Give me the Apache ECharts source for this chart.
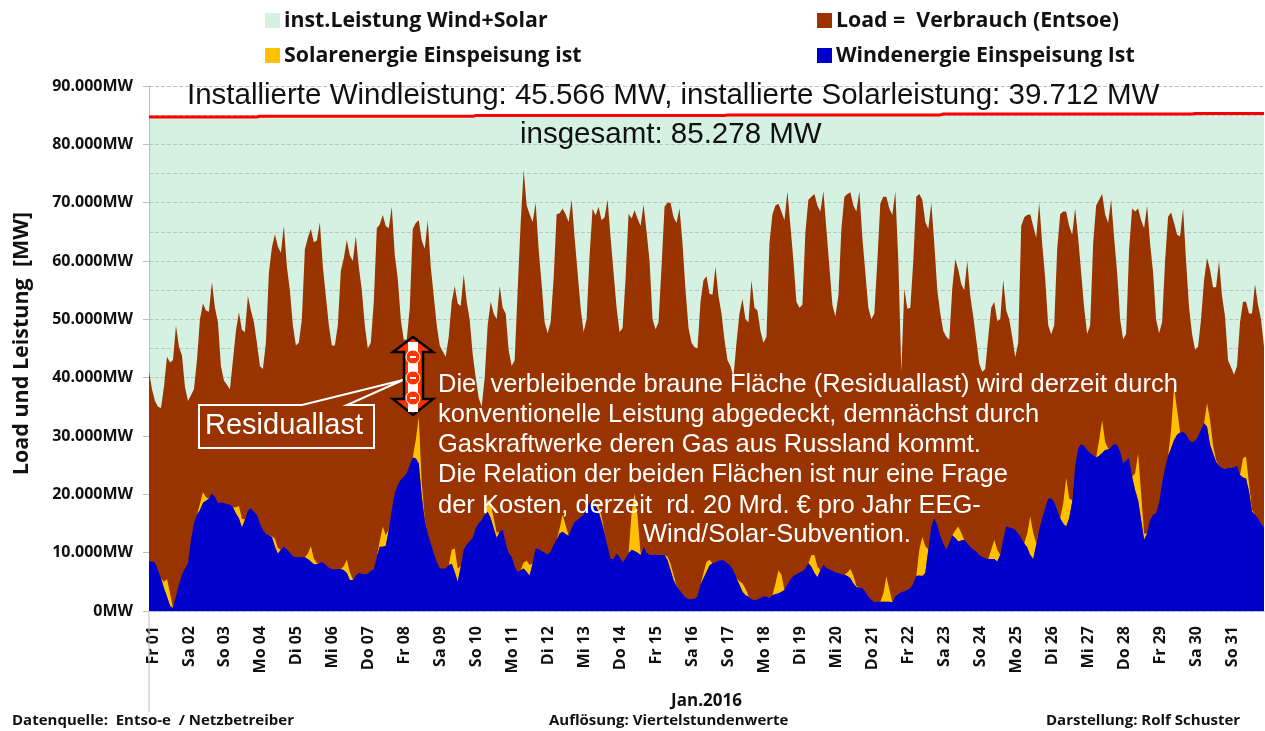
<!DOCTYPE html>
<html><head><meta charset="utf-8">
<script src="https://cdn.jsdelivr.net/npm/echarts@6/dist/echarts.min.js"></script>
<style>html,body{margin:0;padding:0;background:#fff}#c{width:1265px;height:731px}</style>
</head><body><div id="c"></div>
<script>
const dayLabels=["Fr 01","Sa 02","So 03","Mo 04","Di 05","Mi 06","Do 07","Fr 08","Sa 09","So 10","Mo 11","Di 12","Mi 13","Do 14","Fr 15","Sa 16","So 17","Mo 18","Di 19","Mi 20","Do 21","Fr 22","Sa 23","So 24","Mo 25","Di 26","Mi 27","Do 28","Fr 29","Sa 30","So 31"];
// two-hourly readings, thousand MW (12 per day, plus the closing point)
const loadValues=[
41,38,36,35,34.8,38.5,43.6,42.6,43,48.9,45.3,43.8,
38.4,36,37,38,43,50,52.7,51.5,51.3,56.4,52,49.5,
42,39.5,38.8,38,43,48,51.2,48.2,47.8,54,51.5,49.5,
46,42,41.5,46,58,62.3,64.6,62.5,61.4,66,59,55,
49,45.5,46,50,62,64,65.5,63.2,63.5,66.6,59,54,
49,45.5,45.5,49,58.3,60.5,63.6,61,60,64.3,59,55,
49,45,46,53,65.6,66.3,67.9,66,65.6,69.3,61,57,
50,46.5,46.5,52,65.5,66.5,67,63.5,62.1,67,59,54,
49,45.5,44.5,43.6,47,53,55.7,52.7,52.3,57.7,53,49.9,
44,40,36.5,35,40,49,53,51,50,55.7,52,51,
44.7,42,43,55,66.5,75.6,69.5,68,66.7,70,62,56,
49.5,47.6,49.5,57,68,68.2,69,68,66.7,70.5,64,58,
52,47.8,50,61,69,67.8,69.3,67,67.5,70.5,64,58,
52,47.8,48.5,57,68.1,67.3,68.7,67.3,66,69.7,65,60,
50,48.3,49.5,59,69.3,70,70,67.5,66.5,69,63,55,
48.5,46,45.2,45,53,56.7,57.4,54.4,54.2,59,54,51,
46.5,43,42,40.1,46,51,53.5,50,49.5,56.7,52,51.5,
48,46,47,63,68,69.5,69.8,68.5,67,71.9,66,60,
53,52,52.5,65,70.5,71,71.5,69.5,68.5,72,65.5,59,
52.5,50.5,54,65.5,71,71.5,71.8,69.5,68.5,71.9,64,58,
52,50,51,60,69.9,71,71,69,67.9,71.9,60,41,
55.3,51.8,52,60.1,71,71.5,70.5,66.7,65.5,70,63,55,
51,48,47,46.5,55.3,60.3,58.5,56,55,60,54,50.5,
46.5,42.4,41,41.5,47,52,53,49.7,50,56.8,51.5,50,
47,43.5,46,66,67.5,67.9,68,66,64,70,63,57,
49,47.4,49,62,68,68.5,68.5,66,64.5,69,64,58,
52,47.5,49,63,69.5,70.5,71.5,68,66.5,70.5,64,58,
50,46.6,47.5,62,69,68.5,69,67,65.6,69.5,63,58,
50,47.6,49.5,60,67.6,68.3,66.5,64.5,64.2,69,60,52,
47.5,44.8,45.3,50,56.7,60.5,58.5,55.5,55.5,60,54,50.5,
43,41.8,40.5,42,49.5,53,53,51,51,56,52.5,50,
45.3];
const windValues=[
8.5,8.5,8.3,7,5.6,3.9,2.5,0.9,0.5,2.5,4.5,6.2,
7.3,8.2,12.2,15,16.5,17.3,18.5,18.9,19.3,20.1,19.6,18.5,
18.6,18.5,18.3,18.2,17.8,16.7,15.9,14.3,15.6,17.2,17.6,17,
16.5,15,13.9,13.2,13,12.7,11,9.8,10.5,11,10.6,10,
9.4,9.2,9.2,9.2,9.2,8.9,8.5,8,8,8.3,8.3,7.9,
7.4,7.2,7.1,7.2,7.2,7,6.5,5.3,5.3,6.1,6.5,6.4,
6.3,6.4,6.9,7.1,9.3,11,11,11.2,13.9,17.3,20.2,21.6,
22.5,23,23.6,25,26.3,26.2,25.3,19.6,15.6,13.3,11.6,9.9,
8.5,7.3,7.3,7.3,7.9,8.1,6.7,5,7.6,10.5,11.4,11.9,
12.6,14.2,15,15.6,16.5,17,15.9,14.2,12.5,13.6,13.9,11.6,
9.9,9.3,7.6,6.7,7,7.3,6.7,6.1,8.2,10.7,10.6,10.3,
10,9.7,10.2,11.3,12.2,13.3,13.6,13.2,12.9,14.2,15.3,15.6,
16.1,16.5,17.6,18.5,19,18,17,15.3,13.3,11,8.9,8.9,
9.8,9.3,8.3,9,9.9,10.5,10.3,10,9.6,11,10,9.6,
9.6,9.6,9.6,9.6,9.6,8.7,7,5.3,4.3,3.6,2.9,2.3,
2,2,2.1,2.5,4.5,5.6,6.7,7.8,8.2,8.3,8.6,8.7,
8.6,8.2,7.7,6.9,5.6,4.5,3.3,2.7,2.5,2,1.8,2,
2.2,2.5,2.5,2.2,2.7,2.9,3,3.3,3.6,4.5,5.4,6,
6.3,6.6,6.8,7.3,8.2,7.6,6.5,5.8,7,7.9,7.4,7.1,
6.9,6.6,6.5,6.3,6.2,6,5.6,4.7,4.1,4,3.9,3.3,
2.5,1.9,1.5,1.6,1.6,1.6,1.6,1.6,1.5,2.5,2.9,3.2,
3.4,3.6,3.9,4.7,6,6.1,6,6.5,10.5,14.5,15.9,14.7,
12.9,11.6,10.5,11.6,13,12.5,11.9,12.1,12.2,11.6,11,10.5,
10.2,9.6,9.3,9,8.9,8.9,8.9,8.5,9.6,12.2,14.5,14.3,
14.2,13.9,13.3,12.5,11.6,10.9,9.6,8.9,11.3,13.9,15.9,17.6,
19.3,19.3,18.7,17.3,15.9,15,14.5,15.9,18.7,24.7,27.9,28.6,
28.3,27.6,27.1,26.7,26.3,26.6,27.1,27.6,27.7,28.1,28.6,28.5,
27.3,25.3,25.8,26.2,23,20.7,19,15.6,12.2,13.3,15.6,16.5,
16.7,18.5,21.9,24.5,26.6,27.9,29.3,30.2,30.6,30.7,30.3,29.3,
28.9,29.2,29.9,31.1,32.2,31.6,28.5,27,25.6,24.9,24.5,24.3,
24.5,24.5,24.6,24.9,23.3,22.9,22.7,20.5,17,16.5,15.9,15,
14.3];
// solar feed-in per day at 10, 12, 14 and 16 h (other hours read as zero)
const solarMidday=[
[1.1,3,2.2,0],[1.1,1.9,0.6,0],[1.1,2.1,1.5,0.1],[0.1,1.4,1,0],[0.9,2.6,1,0.2],[0.7,2.3,1.4,0.1],
[1.1,3.5,1.8,0.1],[3.1,8,2.3,0.3],[2.4,4,2.3,0.1],[2.1,2.6,1.7,0.9],[1,1.9,1.8,0],[0.9,2.9,1.5,0],
[0.3,1.1,0.9,0.1],[6.3,9.9,6.2,0.3],[0.6,1.1,0.9,0.1],[0.9,1.7,1,0],[0.6,1.4,1.1,0.1],[1.8,4,2.9,0],
[2,3.1,1.8,0],[0.6,1.6,1.4,0.2],[1.4,4.3,2.1,0.1],[4.4,6.7,4.6,0.1],[1.3,2.6,1.3,0],[1.6,3.3,2,0],
[2.4,6.6,4.5,0.3],[3.4,8.3,3.4,0.3],[2.7,5.6,1.4,0.1],[2.9,8,4.6,1.1],[3.1,9.1,4.3,0.1],[4,4.3,1.4,0.3],[3.3,3.8,1.4,0.3]];
// installed wind + solar capacity per day, thousand MW
const installedByDay=[84.7,84.7,84.7,84.8,84.8,84.8,84.8,84.8,84.8,84.95,84.95,84.95,84.95,84.95,84.95,84.95,85.05,85.05,85.05,85.05,85.05,85.05,85.2,85.2,85.2,85.2,85.2,85.2,85.2,85.28,85.28];
const yTicks={0:"0MW",10:"10.000MW",20:"20.000MW",30:"30.000MW",40:"40.000MW",50:"50.000MW",60:"60.000MW",70:"70.000MW",80:"80.000MW",90:"90.000MW"};

const PER_DAY=12;
const categories=[],solarValues=[],installedValues=[];
dayLabels.forEach((d,i)=>{
  for(let k=0;k<PER_DAY;k++){
    categories.push(k===0?d:'');
    solarValues.push(k>=5&&k<=8?solarMidday[i][k-5]:0);
    installedValues.push(installedByDay[i]);
  }
});
categories.push('');solarValues.push(0);installedValues.push(installedByDay[30]);

const names={inst:'inst.Leistung Wind+Solar',load:'Load =  Verbrauch (Entsoe)',solar:'Solarenergie Einspeisung ist',wind:'Windenergie Einspeisung Ist'};
const C={inst:'#d5f1e2',load:'#993300',solar:'#ffc000',wind:'#0000cc'};
const legendFont={fontFamily:'Open Sans',fontWeight:'bold',fontSize:21.3,color:'#111'};
function lg(name,left,top){return{data:[name],left,top,icon:'rect',itemWidth:15,itemHeight:15,itemGap:0,padding:0,selectedMode:false,textStyle:Object.assign({padding:[0,0,0,-1]},legendFont)};}
function area(name,values,color,extra){return Object.assign({name,type:'line',data:values,symbol:'none',showSymbol:false,sampling:null,lineStyle:{width:0},itemStyle:{color},areaStyle:{color,opacity:1},animation:false,silent:true},extra||{});}
const sans='Liberation Sans';
function txt(text,x,y,size,fill,extra){return{type:'text',z:50,style:Object.assign({text,x,y,fill,font:size+'px "'+sans+'"',verticalAlign:'middle',textAlign:'left'},extra||{})};}
function foot(text,x){return{type:'text',z:50,style:{text,x,y:721,fill:'#111',font:'bold 15px "Open Sans"',verticalAlign:'middle'}};}
const arrowPts=[[413,337],[433,352],[423,352],[423,399],[433,399],[413,415],[393,399],[404,399],[404,352],[393,352]];
const squares=[347,367,388,407].map(y=>({type:'rect',z:52,shape:{x:408,y:y-5,width:10,height:10},style:{fill:'#fff'}}));
const dots=[357,378,398].map(y=>({type:'circle',z:52,shape:{cx:413,cy:y,r:7},style:{fill:'#ff3300',stroke:'#fff',lineWidth:1}}));
const dashes=[357,378,398].map(y=>({type:'rect',z:53,shape:{x:410,y:y-1,width:6,height:2},style:{fill:'#fff'}}));
const chart=echarts.init(document.getElementById('c'),null,{renderer:'canvas'});
chart.setOption({
  animation:false,backgroundColor:'#fff',
  legend:[lg(names.inst,265,10),lg(names.load,817,10),lg(names.solar,265,45),lg(names.wind,817,45)],
  grid:{left:149,right:1,top:86,bottom:120,containLabel:false,outerBoundsMode:'none'},
  xAxis:{type:'category',data:categories,boundaryGap:false,
    name:'Jan.2016',nameLocation:'middle',nameGap:82,nameTextStyle:{fontFamily:'Open Sans',fontWeight:'bold',fontSize:17,color:'#111'},
    axisLine:{lineStyle:{color:'#a9a9c9',width:1}},axisTick:{show:false},
    axisLabel:{interval:(i)=>i%PER_DAY===0,rotate:90,margin:15,verticalAlign:'top',lineHeight:8,fontFamily:'Open Sans',fontWeight:'bold',fontSize:16,color:'#111',showMinLabel:true,showMaxLabel:false},
    splitLine:{show:false}},
  yAxis:{type:'value',min:0,max:90,interval:10,z:1,
    name:'Load und Leistung  [MW]',nameLocation:'middle',nameGap:116,nameRotate:90,nameTextStyle:{fontFamily:'Open Sans',fontWeight:'bold',fontSize:21.5,color:'#111',padding:[0,0,0,10]},
    axisLine:{show:true,lineStyle:{color:'#bdbdbd',width:1}},axisTick:{show:true,length:6,lineStyle:{color:'#bdbdbd'}},
    minorTick:{show:true,splitNumber:2,length:0,lineStyle:{opacity:0}},
    minorSplitLine:{show:true,lineStyle:{type:'dashed',color:'#b5c8bb',width:1}},
    splitLine:{show:true,lineStyle:{type:'dashed',color:'#b5c8bb',width:1}},
    axisLabel:{margin:16,fontFamily:'Open Sans',fontWeight:'bold',fontSize:16,color:'#111',formatter:v=>yTicks[v]}},
  series:[
    area(names.inst,installedValues,C.inst,{z:0,step:'end'}),
    {name:'Installiert',type:'line',data:installedValues,step:'end',symbol:'none',showSymbol:false,silent:true,z:5,lineStyle:{width:3,color:'#ff0000'},itemStyle:{color:'#ff0000'}},
    area(names.load,loadValues,C.load,{z:2}),
    area(names.wind,windValues,C.wind,{z:4,stack:'fed'}),
    area(names.solar,solarValues,C.solar,{z:3,stack:'fed'})
  ],
  graphic:[
    txt('Installierte Windleistung: 45.566 MW, installierte Solarleistung: 39.712 MW',187,96,29.5,'#111'),
    txt('insgesamt: 85.278 MW',520,135,29.5,'#111'),
    txt('Die  verbleibende braune Fläche (Residuallast) wird derzeit durch',438,385,25.5,'#fff'),
    txt('konventionelle Leistung abgedeckt, demnächst durch',438,415,25.5,'#fff'),
    txt('Gaskraftwerke deren Gas aus Russland kommt.',438,445,25.5,'#fff'),
    txt('Die Relation der beiden Flächen ist nur eine Frage',438,475,25.5,'#fff'),
    txt('der Kosten, derzeit  rd. 20 Mrd. € pro Jahr EEG-',438,506,25.5,'#fff'),
    txt('Wind/Solar-Subvention.',643,535,25.5,'#fff'),
    txt('Residuallast',205,426,29,'#fff'),
    {type:'polyline',z:50,shape:{points:[[302,405],[199,405],[199,448],[374,448],[374,405],[347,405],[403,380],[302,405]]},style:{stroke:'#fff',lineWidth:2,fill:null}},
    {type:'polygon',z:51,shape:{points:arrowPts},style:{fill:'#ff3300',stroke:'#000',lineWidth:2.5}},
    ...squares,...dots,...dashes,
    {type:'line',z:10,shape:{x1:149,y1:611,x2:149,y2:712},style:{stroke:'#bdbdbd',lineWidth:1}},
    foot('Datenquelle:  Entso-e  / Netzbetreiber',12),
    foot('Auflösung: Viertelstundenwerte',549),
    foot('Darstellung: Rolf Schuster',1046)
  ]
});
</script></body></html>
